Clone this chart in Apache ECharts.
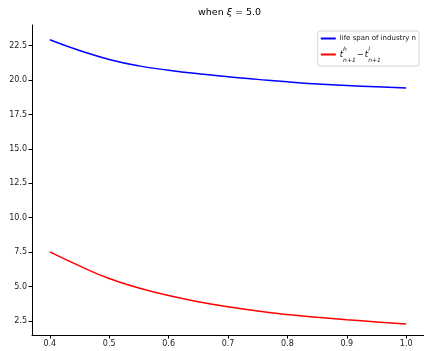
<!DOCTYPE html>
<html>
<head>
<meta charset="utf-8">
<script src="https://cdn.jsdelivr.net/npm/echarts@6/dist/echarts.min.js"></script>
<style>html,body{margin:0;padding:0;background:#fff;}#c{width:424px;height:351px;}</style>
</head>
<body>
<div id="c"></div>
<script>
const xs = [0.40, 0.45, 0.50, 0.55, 0.60, 0.65, 0.70, 0.75, 0.80, 0.85, 0.90, 0.95, 1.00];
const lifeSpan = [22.93, 22.15, 21.50, 21.03, 20.72, 20.46, 20.24, 20.05, 19.87, 19.72, 19.61, 19.51, 19.43];
const gapValues = [7.52, 6.50, 5.58, 4.90, 4.35, 3.90, 3.53, 3.22, 2.97, 2.77, 2.59, 2.43, 2.28];
const xTicks = [0.4, 0.5, 0.6, 0.7, 0.8, 0.9, 1.0];
const yTicks = [2.5, 5.0, 7.5, 10.0, 12.5, 15.0, 17.5, 20.0, 22.5];
const seriesNames = ['life span of industry n', 'gap'];

const chart = echarts.init(document.getElementById('c'));
const font = 'DejaVu Sans';
chart.setOption({
  animation: false,
  backgroundColor: '#fff',
  title: {
    text: '{a|when }{b|ξ}{a| = 5.0}',
    left: 198, top: 8, padding: 0,
    textStyle: {
      fontWeight: 'normal',
      rich: {
        a: { fontFamily: font, fontSize: 9.5, fontWeight: 'normal', color: '#000' },
        b: { fontFamily: font, fontSize: 9.5, fontWeight: 'normal', fontStyle: 'italic', color: '#000' }
      }
    }
  },
  legend: {
    orient: 'vertical',
    right: 5, top: 31,
    padding: [4, 3, 3, 3],
    itemGap: 4,
    itemWidth: 15, itemHeight: 2,
    icon: 'rect',
    backgroundColor: '#fff',
    borderColor: '#d4d4d4', borderWidth: 1, borderRadius: 2,
    data: seriesNames,
    formatter: function (name) {
      if (name === 'gap') {
        return '{t|t}{sp|h}{sb|n+1}{m|−}{t|t}{sp|l}{sb|n+1}';
      }
      return '{p|' + name + '}';
    },
    textStyle: {
      fontFamily: font, fontSize: 7, color: '#111', padding: [0, 0, 0, -1],
      rich: {
        p: { fontFamily: font, fontSize: 7, color: '#111', lineHeight: 12 },
        t: { fontFamily: font, fontSize: 8.5, fontStyle: 'italic', color: '#111', lineHeight: 17, verticalAlign: 'middle' },
        sp: { fontFamily: font, fontSize: 6, fontStyle: 'italic', color: '#111', width: 0, verticalAlign: 'top', lineHeight: 17 },
        sb: { fontFamily: font, fontSize: 6, fontStyle: 'italic', color: '#111', verticalAlign: 'bottom', lineHeight: 17 },
        m: { fontFamily: font, fontSize: 8.5, color: '#111', lineHeight: 17, padding: [0, 1, 0, 1] }
      }
    }
  },
  grid: { left: 32, right: 0, top: 25, bottom: 16, containLabel: false },
  xAxis: {
    type: 'value', min: 0.37, max: 1.03,
    axisLine: { show: true, onZero: false, lineStyle: { color: '#000', width: 1 } },
    axisTick: { show: true, customValues: xTicks, length: 3.5, lineStyle: { color: '#000' } },
    axisLabel: { customValues: xTicks, formatter: v => v.toFixed(1), fontFamily: font, fontSize: 8, color: '#222', margin: 5 },
    splitLine: { show: false }
  },
  yAxis: {
    type: 'value', min: 1.48, max: 24.0,
    axisLine: { show: true, onZero: false, lineStyle: { color: '#000', width: 1 } },
    axisTick: { show: true, customValues: yTicks, length: 3.5, lineStyle: { color: '#000' } },
    axisLabel: { customValues: yTicks, formatter: v => v.toFixed(1), fontFamily: font, fontSize: 8, color: '#222', margin: 5 },
    splitLine: { show: false }
  },
  series: [
    {
      name: seriesNames[0], type: 'line', symbol: 'none',
      smooth: 0.5,
      lineStyle: { color: '#0000ff', width: 1.5 }, itemStyle: { color: '#0000ff' },
      data: xs.map((x, i) => [x, lifeSpan[i]])
    },
    {
      name: seriesNames[1], type: 'line', symbol: 'none',
      smooth: 0.5,
      lineStyle: { color: '#ff0000', width: 1.5 }, itemStyle: { color: '#ff0000' },
      data: xs.map((x, i) => [x, gapValues[i]])
    }
  ]
});
</script>
</body>
</html>
